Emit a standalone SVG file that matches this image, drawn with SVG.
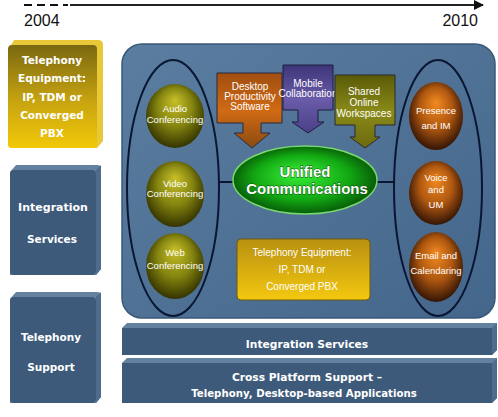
<svg xmlns="http://www.w3.org/2000/svg" width="498" height="417" viewBox="0 0 498 417">
<defs>
<style>
.yr{font-family:"Liberation Sans",Arial,sans-serif;font-size:16px;fill:#111}
.bx{font-family:"DejaVu Sans",Verdana,sans-serif;font-weight:bold;fill:#fff;text-anchor:middle}
.ct{font-family:"Liberation Sans",Arial,sans-serif;font-size:9.5px;fill:#fff;text-anchor:middle}
.ar{font-family:"Liberation Sans",Arial,sans-serif;font-size:10px;fill:#fff;text-anchor:middle}
.oval{fill:none;stroke:#0a1633;stroke-width:2}
.conn{stroke:#0a1633;stroke-width:2}
.blueFront{fill:#3d5a7b}
.blueTop{fill:#6581a0}
.blueSide{fill:#4e6c8c}
</style>
<linearGradient id="gYel" x1="0" y1="0" x2="0" y2="1">
<stop offset="0" stop-color="#7a6810"/><stop offset="0.55" stop-color="#c8a410"/><stop offset="1" stop-color="#f2c808"/>
</linearGradient>
<linearGradient id="gYel2" x1="0" y1="0" x2="0" y2="1">
<stop offset="0" stop-color="#b89010"/><stop offset="1" stop-color="#f4c810"/>
</linearGradient>
<linearGradient id="gPanel" x1="0" y1="0" x2="1" y2="1">
<stop offset="0" stop-color="#5a7da0"/><stop offset="1" stop-color="#44668a"/>
</linearGradient>
<radialGradient id="gOlive" cx="0.5" cy="0.45" r="0.55" fx="0.5" fy="0.25">
<stop offset="0" stop-color="#c8c028"/><stop offset="0.55" stop-color="#858510"/><stop offset="1" stop-color="#343400"/>
</radialGradient>
<radialGradient id="gOrange" cx="0.5" cy="0.45" r="0.55" fx="0.5" fy="0.3">
<stop offset="0" stop-color="#f28a20"/><stop offset="0.55" stop-color="#b05810"/><stop offset="1" stop-color="#341505"/>
</radialGradient>
<radialGradient id="gGreen" cx="0.5" cy="0.5" r="0.55" fx="0.45" fy="0.4">
<stop offset="0" stop-color="#3af03a"/><stop offset="0.6" stop-color="#12a812"/><stop offset="1" stop-color="#054a05"/>
</radialGradient>
<linearGradient id="gOrBox" x1="0" y1="0" x2="0" y2="1">
<stop offset="0" stop-color="#a04e10"/><stop offset="0.5" stop-color="#d06a14"/><stop offset="1" stop-color="#8a4a10"/>
</linearGradient>
<linearGradient id="gPurBox" x1="0" y1="0" x2="0" y2="1">
<stop offset="0" stop-color="#3c3478"/><stop offset="0.5" stop-color="#6a5ca8"/><stop offset="1" stop-color="#4a4088"/>
</linearGradient>
<linearGradient id="gOlBox" x1="0" y1="0" x2="0" y2="1">
<stop offset="0" stop-color="#5a5a08"/><stop offset="0.5" stop-color="#8a8a18"/><stop offset="1" stop-color="#6a6a10"/>
</linearGradient>
<marker id="tl" viewBox="0 0 10 10" refX="9" refY="5" markerWidth="5" markerHeight="5" orient="auto">
<path d="M0,0 L10,5 L0,10 z" fill="#111"/>
</marker>
</defs>

<rect width="498" height="417" fill="#fff"/>

<g id="timeline">
<line x1="24" y1="5" x2="68" y2="5" stroke="#111" stroke-width="2" stroke-dasharray="8,5"/>
<line x1="70" y1="5" x2="483" y2="5" stroke="#222" stroke-width="2" marker-end="url(#tl)"/>
<text class="yr" x="24" y="26">2004</text>
<text class="yr" x="478" y="26" text-anchor="end">2010</text>
</g>

<g id="left-telephony-equipment">
<path d="M14,40 L98,40 Q103,40 103,45 L103,141 L97,148 L12,148 Q8,148 8,144 L8,50 Z" fill="#e8c838"/>
<rect x="8" y="45" width="89" height="103" rx="4" fill="url(#gYel)"/>
<text class="bx" font-size="10.5" x="52" y="64">Telephony</text>
<text class="bx" font-size="10.5" x="52" y="82">Equipment:</text>
<text class="bx" font-size="10.5" x="52" y="101" fill="#fbf0b0">IP, TDM or</text>
<text class="bx" font-size="10.5" x="52" y="119" fill="#f8e890">Converged</text>
<text class="bx" font-size="10.5" x="52" y="137" fill="#f6e080">PBX</text>
</g>

<g id="left-integration-services">
<path d="M16,165 L97,165 Q101,165 101,169 L101,269 L96,275 L10,275 L10,172 Z" class="blueTop"/>
<path d="M96,170 L101,165 L101,269 L96,275 Z" class="blueSide"/>
<rect x="10" y="170" width="86" height="105" rx="4" class="blueFront"/>
<text class="bx" font-size="11" x="53" y="211">Integration</text>
<text class="bx" font-size="10.5" x="52" y="243">Services</text>
</g>

<g id="left-telephony-support">
<path d="M16,292 L97,292 Q101,292 101,296 L101,397 L96,403 L10,403 L10,299 Z" class="blueTop"/>
<path d="M96,297 L101,292 L101,397 L96,403 Z" class="blueSide"/>
<rect x="10" y="297" width="86" height="106" rx="4" class="blueFront"/>
<text class="bx" font-size="10.5" x="51" y="341">Telephony</text>
<text class="bx" font-size="10.5" x="51" y="371">Support</text>
</g>

<g id="main-panel">
<rect x="122" y="44" width="373" height="274" rx="20" fill="url(#gPanel)" stroke="#3a5878" stroke-width="1.5"/>
</g>

<g id="left-group">
<ellipse class="oval" cx="173" cy="188" rx="46" ry="128"/>
</g>
<g id="right-group">
<ellipse class="oval" cx="438" cy="188" rx="44" ry="128"/>
</g>

<g id="connectors">
<line class="conn" x1="219" y1="182" x2="234" y2="182"/>
<line class="conn" x1="376" y1="182" x2="395" y2="182"/>
</g>

<g id="audio-conferencing">
<ellipse cx="175" cy="116" rx="29" ry="32" fill="url(#gOlive)"/>
<text class="ct" x="175" y="112">Audio</text>
<text class="ct" x="175" y="123">Conferencing</text>
</g>
<g id="video-conferencing">
<ellipse cx="175" cy="194" rx="29" ry="33" fill="url(#gOlive)"/>
<text class="ct" x="175" y="187">Video</text>
<text class="ct" x="175" y="197">Conferencing</text>
</g>
<g id="web-conferencing">
<ellipse cx="175" cy="266" rx="29" ry="33" fill="url(#gOlive)"/>
<text class="ct" x="175" y="256">Web</text>
<text class="ct" x="175" y="269">Conferencing</text>
</g>

<g id="presence-im">
<ellipse cx="436" cy="116" rx="27" ry="34" fill="url(#gOrange)"/>
<text class="ct" x="436" y="114">Presence</text>
<text class="ct" x="436" y="129">and IM</text>
</g>
<g id="voice-um">
<ellipse cx="436" cy="193" rx="27" ry="32" fill="url(#gOrange)"/>
<text class="ct" x="436" y="181">Voice</text>
<text class="ct" x="436" y="193">and</text>
<text class="ct" x="436" y="208">UM</text>
</g>
<g id="email-calendaring">
<ellipse cx="436" cy="267" rx="27" ry="35" fill="url(#gOrange)"/>
<text class="ct" x="436" y="259">Email and</text>
<text class="ct" x="436" y="274">Calendaring</text>
</g>

<g id="desktop-productivity">
<path d="M217,73 L282,73 L282,123 L261,123 L261,133 L270,133 L252,148 L234,133 L243,133 L243,123 L217,123 Z" fill="url(#gOrBox)" stroke="#2a2a40" stroke-width="1"/>
<text class="ar" x="250" y="90">Desktop</text>
<text class="ar" x="250" y="100">Productivity</text>
<text class="ar" x="250" y="110">Software</text>
</g>
<g id="mobile-collaboration">
<path d="M283,65 L333,65 L333,110 L318,110 L318,122 L324,122 L308,133 L292,122 L298,122 L298,110 L283,110 Z" fill="url(#gPurBox)" stroke="#1e1e40" stroke-width="1"/>
<text class="ar" font-size="9.5" x="308" y="87">Mobile</text>
<text class="ar" font-size="9.5" x="308" y="97">Collaboration</text>
</g>
<g id="shared-workspaces">
<path d="M335,75 L395,75 L395,125 L375,125 L375,137 L380,137 L365,148 L350,137 L355,137 L355,125 L335,125 Z" fill="url(#gOlBox)" stroke="#2a2a30" stroke-width="1"/>
<text class="ar" x="364" y="95">Shared</text>
<text class="ar" x="364" y="106">Online</text>
<text class="ar" x="364" y="117">Workspaces</text>
</g>

<g id="unified-communications">
<ellipse cx="305" cy="180" rx="72" ry="34" fill="url(#gGreen)" stroke="#7ad870" stroke-width="1.5"/>
<text x="305" y="177" text-anchor="middle" font-family="'Liberation Sans',Arial,sans-serif" font-weight="bold" font-size="15" fill="#fff" stroke="#0a4a0a" stroke-width="0.8" paint-order="stroke">Unified</text>
<text x="307" y="194" text-anchor="middle" font-family="'Liberation Sans',Arial,sans-serif" font-weight="bold" font-size="15" fill="#fff" stroke="#0a4a0a" stroke-width="0.8" paint-order="stroke">Communications</text>
</g>

<g id="telephony-equipment">
<rect x="237" y="239" width="133" height="61" rx="4" fill="url(#gYel2)" stroke="#6a5a10" stroke-width="1"/>
<text class="ar" x="302" y="256">Telephony Equipment:</text>
<text class="ar" x="302" y="273">IP, TDM or</text>
<text class="ar" x="302" y="290" fill="#fbeeaa">Converged PBX</text>
</g>

<g id="integration-services-bar">
<path d="M127,323 L497,323 L497,350 L492,355 L122,355 L122,328 Z" class="blueTop"/>
<path d="M492,328 L497,323 L497,350 L492,355 Z" class="blueSide"/>
<rect x="122" y="328" width="370" height="27" class="blueFront"/>
<text class="bx" font-size="10.7" x="307" y="348">Integration Services</text>
</g>

<g id="cross-platform-bar">
<path d="M127,358 L497,358 L497,398 L492,403 L122,403 L122,363 Z" class="blueTop"/>
<path d="M492,363 L497,358 L497,398 L492,403 Z" class="blueSide"/>
<rect x="122" y="363" width="370" height="40" class="blueFront"/>
<text class="bx" font-size="10.7" x="307" y="381">Cross Platform Support –</text>
<text class="bx" font-size="10.2" x="304" y="397">Telephony, Desktop-based Applications</text>
</g>
</svg>
